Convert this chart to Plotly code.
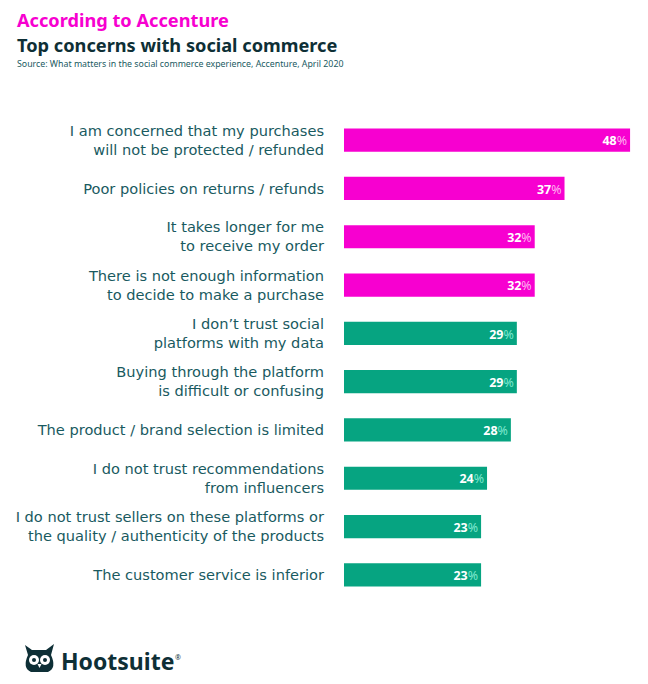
import plotly.graph_objects as go

categories = [
    "I am concerned that my purchases<br>will not be protected / refunded",
    "Poor policies on returns / refunds",
    "It takes longer for me<br>to receive my order",
    "There is not enough information<br>to decide to make a purchase",
    "I don’t trust social<br>platforms with my data",
    "Buying through the platform<br>is difficult or confusing",
    "The product / brand selection is limited",
    "I do not trust recommendations<br>from influencers",
    "I do not trust sellers on these platforms or<br>the quality / authenticity of the products",
    "The customer service is inferior",
]
values = [48, 37, 32, 32, 29, 29, 28, 24, 23, 23]
groups = ["pink", "pink", "pink", "pink", "teal", "teal", "teal", "teal", "teal", "teal"]

PINK = "#f700d0"
TEAL = "#06a481"
PINK_PCT = "#ffb3ef"
TEAL_PCT = "#7fe8cf"
LABEL = "#195a5f"
DARK = "#0e2f36"

colors = [PINK if g == "pink" else TEAL for g in groups]
texts = [
    f"<b>{v}</b><span style='color:{PINK_PCT if g == 'pink' else TEAL_PCT}'>%</span>"
    for v, g in zip(values, groups)
]

font_family = "Noto Sans, Open Sans, sans-serif"
label_family = "DejaVu Sans, Noto Sans, sans-serif"

# page offset compensation (page px = figure px + 8)
OFF = 8
ML, MR, MT, MB = 344 - OFF, 6 + OFF, 116 - OFF, 85 + OFF
PW, PH = 648 - ML - MR, 684 - MT - MB

def px_x(px):
    return (px - OFF - ML) / PW

def px_y(py):
    return (684 - MB - (py - OFF)) / PH

fig = go.Figure(
    go.Bar(
        x=values,
        y=categories,
        orientation="h",
        marker=dict(color=colors, line=dict(width=0)),
        width=0.48,
        text=texts,
        textposition="inside",
        insidetextanchor="end",
        textfont=dict(color="white", size=14.5, family=font_family),
        cliponaxis=False,
        hoverinfo="skip",
    )
)

fig.update_layout(
    width=648,
    height=684,
    margin=dict(l=ML, r=MR, t=MT, b=MB, autoexpand=False),
    paper_bgcolor="white",
    plot_bgcolor="white",
    showlegend=False,
    xaxis=dict(range=[0, 50], visible=False, fixedrange=True, automargin=False),
    yaxis=dict(
        autorange="reversed",
        automargin=False,
        showgrid=False,
        zeroline=False,
        showline=False,
        ticks="",
        ticklabelstandoff=19,
        tickfont=dict(size=14.6, color=LABEL, family=label_family),
    ),
    font=dict(family=font_family),
)

fig.add_annotation(
    xref="paper", yref="paper", x=px_x(16), y=px_y(20.5),
    xanchor="left", yanchor="middle", showarrow=False, borderpad=0,
    text="<b>According to Accenture</b>",
    font=dict(size=18.2, color=PINK, family=font_family),
)
fig.add_annotation(
    xref="paper", yref="paper", x=px_x(16), y=px_y(45),
    xanchor="left", yanchor="middle", showarrow=False, borderpad=0,
    text="<b>Top concerns with social commerce</b>",
    font=dict(size=18.2, color=DARK, family=font_family),
)
fig.add_annotation(
    xref="paper", yref="paper", x=px_x(16), y=px_y(64),
    xanchor="left", yanchor="middle", showarrow=False, borderpad=0,
    text="Source: What matters in the social commerce experience, Accenture, April 2020",
    font=dict(size=8.8, color=LABEL, family=font_family),
)

# owl head
fig.add_shape(type="path", xref="paper", yref="paper",
              path=(f"M {px_x(25)} {px_y(645)} L {px_x(32)} {px_y(650)} L {px_x(46)} {px_y(650)} "
                    f"L {px_x(54)} {px_y(644)} L {px_x(51)} {px_y(655)} "
                    f"Q {px_x(57)} {px_y(668)} {px_x(48)} {px_y(672)} "
                    f"L {px_x(31)} {px_y(672)} Q {px_x(22)} {px_y(668)} {px_x(28)} {px_y(655)} Z"),
              fillcolor=DARK, line=dict(width=0))
fig.add_shape(type="circle", xref="paper", yref="paper",
              x0=px_x(29), x1=px_x(39), y0=px_y(665), y1=px_y(655),
              fillcolor="white", line=dict(width=0))
fig.add_shape(type="circle", xref="paper", yref="paper",
              x0=px_x(40), x1=px_x(50), y0=px_y(665), y1=px_y(655),
              fillcolor="white", line=dict(width=0))
fig.add_shape(type="circle", xref="paper", yref="paper",
              x0=px_x(32), x1=px_x(36), y0=px_y(662), y1=px_y(658),
              fillcolor=DARK, line=dict(width=0))
fig.add_shape(type="circle", xref="paper", yref="paper",
              x0=px_x(43), x1=px_x(47), y0=px_y(662), y1=px_y(658),
              fillcolor=DARK, line=dict(width=0))
fig.add_shape(type="path", xref="paper", yref="paper",
              path=f"M {px_x(37.5)} {px_y(664)} L {px_x(41.5)} {px_y(664)} L {px_x(39.5)} {px_y(668)} Z",
              fillcolor="white", line=dict(width=0))

fig.add_annotation(
    xref="paper", yref="paper", x=px_x(59), y=px_y(661),
    xanchor="left", yanchor="middle", showarrow=False,
    text="<b>Hootsuite</b>",
    font=dict(size=23, color=DARK, family=font_family),
)
fig.add_annotation(
    xref="paper", yref="paper", x=px_x(173), y=px_y(657),
    xanchor="left", yanchor="middle", showarrow=False,
    text="®",
    font=dict(size=7, color=DARK, family=font_family),
)

fig.write_html("out.html")
